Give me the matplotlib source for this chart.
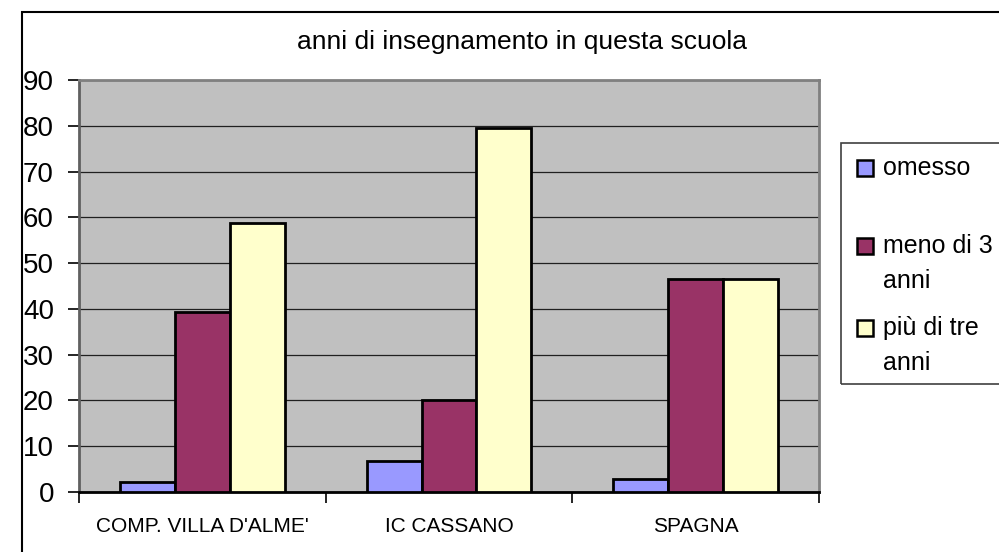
import numpy as np
import matplotlib
matplotlib.use("Agg")
import matplotlib.pyplot as plt
from matplotlib.patches import Rectangle

plt.rcParams['font.family'] = ['Liberation Sans', 'DejaVu Sans']

categories = ["COMP. VILLA D'ALME'", "IC CASSANO", "SPAGNA"]
series = ["omesso", "meno di 3\nanni", "più di tre\nanni"]
omesso = [2.2, 6.8, 2.9]
meno_di_3 = [39.3, 20.2, 46.5]
piu_di_tre = [58.8, 79.6, 46.5]
colors = ["#9999FF", "#993366", "#FFFFCC"]

W, H = 999, 552
fig = plt.figure(figsize=(W / 100, H / 100), dpi=100)
ax = fig.add_axes([79 / W, 1 - 492 / H, (819 - 79) / W, (492 - 80) / H])
ax.set_facecolor("#C0C0C0")

x = np.arange(len(categories))
w = 1 / 4.5
values = [omesso, meno_di_3, piu_di_tre]
for i, (vals, c) in enumerate(zip(values, colors)):
    ax.bar(x + (i - 1) * w, vals, w, color=c, edgecolor="black", linewidth=2, zorder=3)

ax.set_xlim(-0.5, len(categories) - 0.5)
ax.set_ylim(0, 90)
ax.set_yticks(range(0, 91, 10))
ax.yaxis.grid(True, color="#202020", linewidth=0.9, zorder=1)
ax.set_axisbelow(True)
ax.tick_params(axis="y", labelsize=20, length=8, width=1.2, pad=10, direction="out")

ax.set_xticks(x)
ax.set_xticklabels(categories, fontsize=15)
ax.tick_params(axis="x", length=0, pad=18)
ax.set_xticks(np.arange(-0.5, len(categories)), minor=True)
ax.tick_params(axis="x", which="minor", length=8, width=1.2, direction="out")

for s in ["top", "right"]:
    ax.spines[s].set_color("#808080")
    ax.spines[s].set_linewidth(2)
ax.spines["left"].set_color("#606060")
ax.spines["left"].set_linewidth(2)
ax.spines["bottom"].set_color("black")
ax.spines["bottom"].set_linewidth(2)

fig.text(522 / W, 1 - 42 / H, "anni di insegnamento in questa scuola",
         fontsize=19, ha="center", va="center")

# outer chart border
fig.add_artist(Rectangle((22 / W, -0.1), 1.2, 1 - 12 / H + 0.1, transform=fig.transFigure,
                         fill=False, edgecolor="black", linewidth=1.5))

# legend
fig.add_artist(Rectangle((841 / W, 1 - 384 / H), 0.3, (384 - 143) / H, transform=fig.transFigure,
                         fill=False, edgecolor="#404040", linewidth=1.2))
entry_y = [168, 246, 328]
for lab, c, yy in zip(series, colors, entry_y):
    fig.add_artist(Rectangle((857 / W, 1 - (yy + 8) / H), 16 / W, 16 / H, transform=fig.transFigure,
                             facecolor=c, edgecolor="black", linewidth=1.8))
    for k, line in enumerate(lab.split("\n")):
        fig.text(883 / W, 1 - (yy + k * 35) / H, line, fontsize=18, ha="left", va="center")

fig.savefig("out.png", dpi=100)
